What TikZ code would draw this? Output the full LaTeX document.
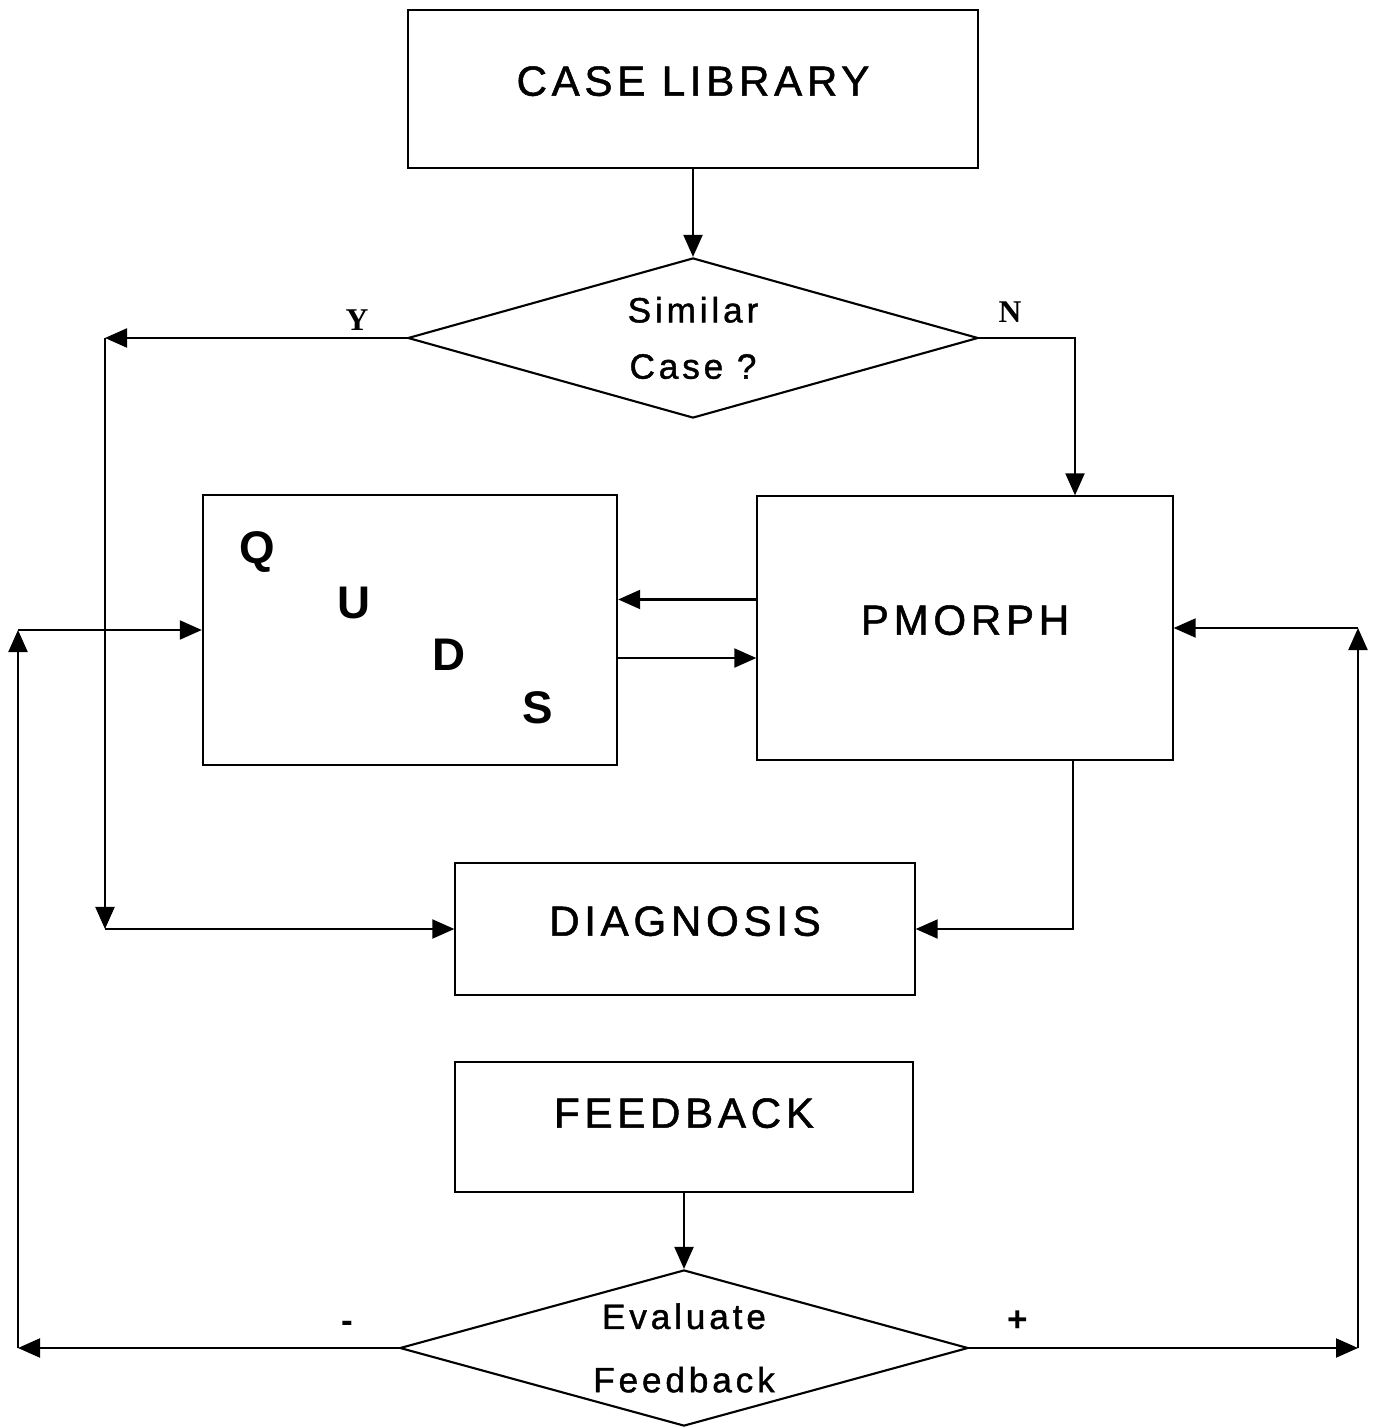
\documentclass[tikz,border=0pt]{standalone}
\usepackage{fontspec}
\setmainfont{Liberation Sans}
\newfontfamily\widesans[LetterSpace=11,FakeBold=1.2]{Liberation Sans}
\newfontfamily\ynfont{Liberation Serif}
\usetikzlibrary{arrows.meta,shapes.geometric}

\begin{document}
\begin{tikzpicture}[x=0.01cm, y=-0.01cm, line width=0.6pt,
  >={Triangle[length=0.22cm,width=0.19cm]},
  block/.style={draw, rectangle, inner sep=0pt, text depth=0.16cm,
    font=\widesans\fontsize{12}{14}\selectfont},
  decision/.style={draw, diamond, aspect=3.6, inner sep=0pt, align=center,
    font=\widesans\fontsize{10}{16}\selectfont},
  letter/.style={font=\bfseries\fontsize{13}{15}\selectfont},
  branch/.style={font=\ynfont\bfseries\fontsize{9}{11}\selectfont},
  sign/.style={font=\bfseries\fontsize{10}{12}\selectfont}]
  \useasboundingbox (0,0) rectangle (1375,1428);

  % Case library and first decision
  \node[block, minimum width=5.70cm, minimum height=1.58cm] (lib) at (693,89) {CASE LIBRARY};
  \node[decision, minimum width=5.70cm, minimum height=1.60cm] (simq) at (693,338) {Similar\\Case ?};

  % Middle boxes
  \node[draw, rectangle, minimum width=4.14cm, minimum height=2.70cm] (quds) at (410,630) {};
  \node[letter] (lq) at (257,552) {Q};
  \node[letter] (lu) at (354,603) {U};
  \node[letter] (ld) at (449,655) {D};
  \node[letter] (ls) at (538,708) {S};
  \node[block, minimum width=4.15cm, minimum height=2.63cm] (pmorph) at (965,628) {PMORPH};

  % Diagnosis and feedback
  \node[block, minimum width=4.59cm, minimum height=1.32cm] (diag) at (685,929) {DIAGNOSIS};
  \node[block, minimum width=4.58cm, minimum height=1.30cm, text depth=0.28cm] (fb) at (684,1127) {FEEDBACK};
  \node[decision, minimum width=5.68cm, minimum height=1.56cm,
    font=\widesans\fontsize{10}{18}\selectfont] (evq) at (684,1348) {Evaluate\\Feedback};

  % Branch labels
  \node[branch] (ylab) at (357,320) {Y};
  \node[branch] (nlab) at (1010,312) {N};
  \node[sign] (minus) at (347,1327) {-};
  \node[sign] (plus) at (1018,1321) {+};

  % Corner points
  \coordinate (ya) at (105,338);
  \coordinate (yb) at (105,929);
  \coordinate (na) at (1075,338);
  \coordinate (pa) at (1073,929);
  \coordinate (la) at (18,1348);
  \coordinate (lb) at (18,630);
  \coordinate (ra) at (1358,1348);
  \coordinate (rb) at (1358,628);

  % Connectors
  \draw[->] (lib.south) -- (simq.north);
  \draw[->] (simq.west) -- (ya);
  \draw[->] (ya) -- (yb);
  \draw[->] (yb) -- (diag.west);
  \draw[->] (simq.east) -- (na) -- (na |- pmorph.north);
  \draw[->] ([yshift=0.285cm]pmorph.west) -- ([yshift=0.285cm]pmorph.west -| quds.east);
  \draw[->] ([yshift=-0.28cm]quds.east) -- ([yshift=-0.28cm]quds.east -| pmorph.west);
  \draw[->] (pa |- pmorph.south) -- (pa) -- (diag.east);
  \draw[->] (fb.south) -- (evq.north);
  \draw[->] (evq.west) -- (la);
  \draw[->] (la) -- (lb);
  \draw[->] (lb) -- (quds.west);
  \draw[->] (evq.east) -- (ra);
  \draw[->] (ra) -- (rb);
  \draw[->] (rb) -- (pmorph.east);
\end{tikzpicture}
\end{document}
